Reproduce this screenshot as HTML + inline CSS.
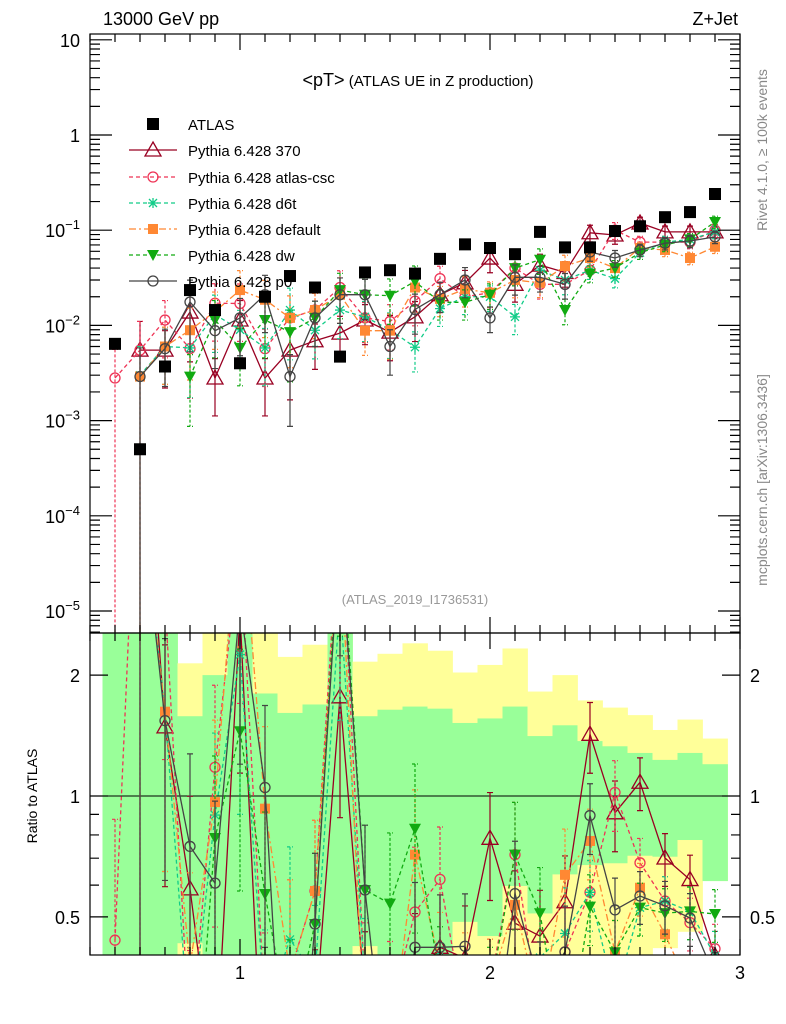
<!DOCTYPE html>
<html><head><meta charset="utf-8"><style>
body{margin:0;background:#fff;width:786px;height:1024px;overflow:hidden}
svg{font-family:"Liberation Sans",sans-serif;display:block}
</style></head><body>
<svg id="chart" width="786" height="1024" viewBox="0 0 786 1024" xmlns="http://www.w3.org/2000/svg">
<defs>
<clipPath id="clipTop"><rect x="90" y="34" width="650" height="599"/></clipPath>
<clipPath id="clipBot"><rect x="90" y="633" width="650" height="322"/></clipPath>
</defs>
<g id="bands" clip-path="url(#clipBot)"></g>
<g id="grid"></g>
<g id="seriesTop" clip-path="url(#clipTop)"></g>
<g id="seriesBot" clip-path="url(#clipBot)"></g>
<g id="axes"></g>
<text x="103" y="25" font-size="18">13000 GeV pp</text>
<text x="738" y="25" font-size="18" text-anchor="end">Z+Jet</text>
<text x="418" y="86" font-size="15" text-anchor="middle"><tspan font-size="18">&lt;pT&gt;</tspan> (ATLAS UE in Z production)</text>
<text x="415" y="604" font-size="13" fill="#999" text-anchor="middle">(ATLAS_2019_I1736531)</text>
<text transform="translate(767,150) rotate(-90)" font-size="14" fill="#888" text-anchor="middle">Rivet 4.1.0, ≥ 100k events</text>
<text transform="translate(767,480) rotate(-90)" font-size="14" fill="#888" text-anchor="middle">mcplots.cern.ch [arXiv:1306.3436]</text>
<text transform="translate(37,796) rotate(-90)" font-size="14" text-anchor="middle">Ratio to ATLAS</text>
<g id="legend"></g>
</svg>
<script>
const xCenters=[0.5,0.6,0.7,0.8,0.9,1.0,1.1,1.2,1.3,1.4,1.5,1.6,1.7,1.8,1.9,2.0,2.1,2.2,2.3,2.4,2.5,2.6,2.7,2.8,2.9];
const atlas=[0.0064,0.0005,0.0037,0.0235,0.0145,0.004,0.02,0.033,0.025,0.0047,0.036,0.038,0.035,0.05,0.071,0.065,0.056,0.096,0.066,0.066,0.098,0.11,0.137,0.155,0.24];
const py370=[null,0.0055,0.0055,0.0138,0.0028,0.0114,0.0028,0.0055,0.0069,0.0083,0.0114,0.0085,0.0123,0.021,0.028,0.051,0.027,0.043,0.036,0.094,0.089,0.119,0.096,0.096,0.096];
const pyCsc=[0.0028,0.0055,0.0114,0.0057,0.0171,0.017,0.0057,0.012,0.0145,0.025,0.012,0.011,0.018,0.031,0.020,0.022,0.040,0.027,0.027,0.038,0.10,0.075,0.075,0.075,0.10];
const pyD6t=[null,0.003,0.006,0.0058,0.013,0.009,0.0058,0.0145,0.0089,0.0145,0.0123,0.009,0.0059,0.015,0.020,0.020,0.0123,0.038,0.030,0.038,0.031,0.058,0.075,0.08,0.096];
const pyDefault=[null,0.0029,0.006,0.0089,0.014,0.0235,0.0186,0.012,0.0145,0.021,0.0088,0.0088,0.025,0.019,0.024,0.022,0.030,0.028,0.042,0.051,0.040,0.065,0.062,0.051,0.067];
const pyDw=[null,null,null,0.0029,0.0114,0.0058,0.0114,0.0085,0.012,0.0235,0.021,0.0205,0.029,0.0175,0.0175,0.021,0.040,0.049,0.0145,0.035,0.040,0.058,0.07,0.08,0.122];
const pyP0=[null,0.0029,0.0057,0.0176,0.0088,0.012,0.021,0.0029,0.012,0.021,0.021,0.006,0.0147,0.021,0.030,0.012,0.032,0.032,0.027,0.059,0.051,0.062,0.073,0.077,0.085];
const mcErr=[1.0,1.0,0.6,0.7,0.6,0.6,0.6,0.7,0.5,0.5,0.45,0.5,0.45,0.35,0.35,0.3,0.35,0.3,0.3,0.2,0.2,0.15,0.15,0.15,0.15];
const yellowHi=[3,3,3,2.14,3,3,3,2.22,2.38,3,2.16,2.26,2.40,2.30,2.03,2.12,2.33,1.82,2.0,1.73,1.66,1.59,1.46,1.55,1.39];
const yellowLo=[0.3,0.3,0.3,0.3,0.3,0.3,0.3,0.3,0.3,0.3,0.3,0.3,0.3,0.3,0.3,0.3,0.3,0.3,0.3,0.3,0.3,0.3,0.418,0.459,0.614];
const greenHi=[3,3,3,1.58,2.0,3,1.80,1.61,1.69,3,1.58,1.64,1.67,1.65,1.52,1.56,1.67,1.41,1.50,1.37,1.33,1.28,1.23,1.28,1.20];
const greenLo=[0.3,0.3,0.3,0.43,0.3,0.3,0.3,0.3,0.3,0.3,0.423,0.3,0.3,0.3,0.486,0.448,0.597,0.51,0.638,0.673,0.68,0.71,0.706,0.777,0.614];
const yTopTicks=["10","1","10^-1","10^-2","10^-3","10^-4","10^-5"];
const ratioTicks=[2,1,0.5];
const xTicks=[1,2,3];

const NS="http://www.w3.org/2000/svg";
const X=v=>240+250*(v-1);
const YT=v=>135-95.2*Math.log10(v);
const YR=r=>796-401.6*Math.log10(r);
function el(tag,attrs,parent){const e=document.createElementNS(NS,tag);for(const k in attrs)e.setAttribute(k,attrs[k]);parent.appendChild(e);return e;}

const bands=document.getElementById('bands');
xCenters.forEach((c,i)=>{
  const x0=X(c-0.05),w=25;
  const y1=el('rect',{x:x0,y:YR(yellowHi[i]),width:w+0.4,height:YR(yellowLo[i])-YR(yellowHi[i]),fill:'#ffff99'},bands);
  
  
  const g1=el('rect',{x:x0,y:YR(greenHi[i]),width:w+0.4,height:YR(greenLo[i])-YR(greenHi[i]),fill:'#99ff99'},bands);
  
  
});
el('line',{x1:90,x2:740,y1:YR(1),y2:YR(1),stroke:'#000','stroke-width':1},document.getElementById('grid'));

const series=[
 {name:'Pythia 6.428 370',key:'series-370',data:py370,color:'#990022',dash:'',marker:'tri'},
 {name:'Pythia 6.428 atlas-csc',key:'series-atlas-csc',data:pyCsc,color:'#ee3355',dash:'4,3',marker:'circ'},
 {name:'Pythia 6.428 d6t',key:'series-d6t',data:pyD6t,color:'#11cc88',dash:'4,3',marker:'star'},
 {name:'Pythia 6.428 default',key:'series-default',data:pyDefault,color:'#ff8833',dash:'7,3,2,3',marker:'sq'},
 {name:'Pythia 6.428 dw',key:'series-dw',data:pyDw,color:'#11aa11',dash:'4,3',marker:'dtri'},
 {name:'Pythia 6.428 p0',key:'series-p0',data:pyP0,color:'#444444',dash:'',marker:'circ'}
];
function marker(g,type,x,y,c){
  let m;
  if(type==='tri') m=el('path',{d:`M${x},${y-8}L${x+8},${y+6}L${x-8},${y+6}Z`,fill:'none',stroke:c,'stroke-width':1.3},g);
  else if(type==='circ') m=el('circle',{cx:x,cy:y,r:5,fill:'none',stroke:c,'stroke-width':1.3},g);
  else if(type==='sq') m=el('rect',{x:x-5,y:y-5,width:10,height:10,fill:c},g);
  else if(type==='dtri') m=el('path',{d:`M${x-6},${y-5}L${x+6},${y-5}L${x},${y+6}Z`,fill:c},g);
  else if(type==='star') m=el('path',{d:`M${x-5},${y}H${x+5}M${x},${y-5}V${y+5}M${x-4},${y-4}L${x+4},${y+4}M${x-4},${y+4}L${x+4},${y-4}`,stroke:c,'stroke-width':1.3},g);
  else m=el('rect',{x:x-6,y:y-6,width:12,height:12,fill:c},g);
  return m;
}
const clampY=y=>Math.max(0,Math.min(1000,y));
function drawSeries(parent,s,yf,ratio){
  const g=el('g',{},parent);
  
  
  const pts=[];
  s.data.forEach((v,i)=>{
    if(v==null)return;
    const val=ratio?v/atlas[i]:v;
    pts.push([X(xCenters[i]),yf(val),val,i]);
  });
  let d='';
  pts.forEach((p,k)=>{d+=(k===0||pts[k-1][3]!==p[3]-1?'M':'L')+p[0].toFixed(1)+','+p[1].toFixed(1);});
  el('path',{d:d,fill:'none',stroke:s.color,'stroke-width':1.3,'stroke-dasharray':s.dash},g);
  pts.forEach(p=>{
    const e=mcErr[p[3]],hi=p[2]*(1+e),lo=p[2]*(1-e);
    const yh=clampY(yf(hi)),yl=lo>0?clampY(yf(lo)):1000;
    el('path',{d:`M${p[0]},${yh}V${yl}M${p[0]-3},${yh}h6M${p[0]-3},${yl}h6`,stroke:s.color,'stroke-width':1.2,'stroke-dasharray':s.dash?'3,2':''},g);
    const m=marker(g,s.marker,p[0],p[1],s.color);
    
    
  });
}
const topG=document.getElementById('seriesTop'),botG=document.getElementById('seriesBot');
series.forEach(s=>{drawSeries(topG,s,YT,false);drawSeries(botG,s,YR,true);});
const ga=el('g',{},topG);


atlas.forEach((v,i)=>{
  const m=marker(ga,'bsq',X(xCenters[i]),YT(v),'#000');
  
  
});

const ax=document.getElementById('axes');
el('rect',{x:90,y:34,width:650,height:599,fill:'none',stroke:'#000','stroke-width':1.2},ax);
el('rect',{x:90,y:633,width:650,height:322,fill:'none',stroke:'#000','stroke-width':1.2},ax);
let td='';
for(let k=-6;k<=1;k++){
  const yv=YT(Math.pow(10,k));
  if(yv>=34&&yv<=633){td+=`M90,${yv}h22M740,${yv}h-22`;}
  for(let m=2;m<=9;m++){const y=YT(m*Math.pow(10,k));if(y>34&&y<633)td+=`M90,${y}h10M740,${y}h-10`;}
}
for(let t=4;t<=30;t++){
  const v=t/10,x=X(v),L=(t%10===0)?16:8;
  td+=`M${x},34v${L}M${x},633v-${L}M${x},633v${L}M${x},955v-${L}`;
}
[0.4,0.5,0.6,0.7,0.8,0.9,1,2].forEach(r=>{const y=YR(r);if(y>633&&y<955){const L=(r===0.5||r===1||r===2)?18:9;td+=`M90,${y}h${L}M740,${y}h-${L}`;}});
el('path',{d:td,stroke:'#000','stroke-width':1.2,fill:'none'},ax);
yTopTicks.forEach((t,k)=>{
  const y=YT(Math.pow(10,1-k));
  const tx=el('text',{x:80,y:y+7,'font-size':18,'text-anchor':'end'},ax);
  
  
  if(t.includes('^')){const p=t.split('^');tx.textContent=p[0];const s=el('tspan',{dy:-8,'font-size':13},tx);s.textContent=p[1].replace('-','−');}
  else tx.textContent=t;
});
ratioTicks.forEach(r=>{
  const y=YR(r);
  const a=el('text',{x:80,y:y+7,'font-size':18,'text-anchor':'end'},ax);a.textContent=r;
  
  
  const b=el('text',{x:750,y:y+7,'font-size':18},ax);b.textContent=r;
  
  
});
xTicks.forEach(v=>{
  const t=el('text',{x:X(v),y:979,'font-size':18,'text-anchor':'middle'},ax);t.textContent=v;
  
  
});

const lg=document.getElementById('legend');
const ly=[124,150,177,203,229,255,281];
const la=marker(lg,'bsq',153,ly[0],'#000');


const lt=el('text',{x:188,y:ly[0]+6,'font-size':15},lg);lt.textContent='ATLAS';


series.forEach((s,k)=>{
  const y=ly[k+1];
  el('line',{x1:129,x2:177,y1:y,y2:y,stroke:s.color,'stroke-width':1.3,'stroke-dasharray':s.dash},lg);
  const m=marker(lg,s.marker,153,y,s.color);
  
  
  const t=el('text',{x:188,y:y+6,'font-size':15},lg);t.textContent=s.name;
  
  
});
</script>
</body></html>
